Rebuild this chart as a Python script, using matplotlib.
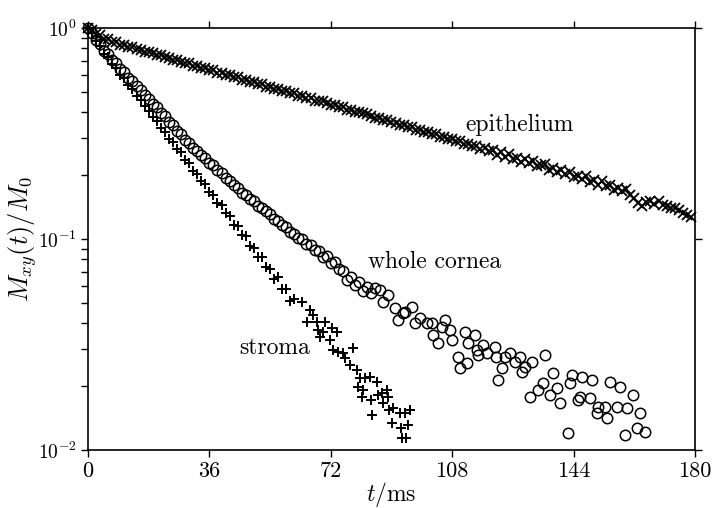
import numpy as np
import matplotlib
matplotlib.use("Agg")
import matplotlib.pyplot as plt

plt.rcParams['font.family'] = 'serif'
plt.rcParams['font.serif'] = ['cmr10', 'DejaVu Serif']
plt.rcParams['mathtext.fontset'] = 'cm'
plt.rcParams['axes.formatter.use_mathtext'] = True

# echo spacing of the regular sampling grid (ms)
echo_step = 1.2

# epithelium, every echo from t = 0
epithelium = [
    1.000, 0.979, 0.938, 0.925, 0.891, 0.887, 0.861, 0.859, 0.832, 0.833,
    0.813, 0.814, 0.791, 0.790, 0.769, 0.772, 0.759, 0.742, 0.745, 0.725,
    0.723, 0.704, 0.706, 0.693, 0.679, 0.682, 0.664, 0.663, 0.646, 0.645,
    0.631, 0.632, 0.614, 0.613, 0.600, 0.599, 0.583, 0.583, 0.570, 0.569,
    0.555, 0.554, 0.543, 0.541, 0.526, 0.527, 0.515, 0.515, 0.501, 0.501,
    0.490, 0.490, 0.476, 0.475, 0.466, 0.465, 0.453, 0.452, 0.453, 0.441,
    0.431, 0.430, 0.421, 0.420, 0.409, 0.409, 0.400, 0.400, 0.397, 0.390,
    0.384, 0.375, 0.374, 0.365, 0.365, 0.357, 0.356, 0.347, 0.346, 0.339,
    0.339, 0.330, 0.329, 0.322, 0.322, 0.313, 0.313, 0.306, 0.305, 0.297,
    0.299, 0.290, 0.290, 0.282, 0.283, 0.276, 0.277, 0.268, 0.269, 0.262,
    0.265, 0.251, 0.257, 0.246, 0.254, 0.240, 0.243, 0.232, 0.239, 0.229,
    0.234, 0.221, 0.223, 0.226, 0.212, 0.217, 0.208, 0.213, 0.204, 0.207,
    0.196, 0.199, 0.192, 0.198, 0.186, 0.190, 0.181, 0.189, 0.179, 0.181,
    0.171, 0.175, 0.169, 0.173, 0.162, 0.156, 0.148, 0.144, 0.150, 0.151,
    0.146, 0.151, 0.145, 0.143, 0.140, 0.141, 0.137, 0.133, 0.130, 0.127,
]

# whole cornea: regular echoes up to ~85 ms, then the scattered tail
cornea_head = [
    1.000, 0.948, 0.880, 0.837, 0.780, 0.751, 0.706, 0.680, 0.642, 0.620,
    0.582, 0.560, 0.529, 0.510, 0.479, 0.462, 0.436, 0.420, 0.395, 0.381,
    0.359, 0.347, 0.325, 0.314, 0.296, 0.285, 0.270, 0.262, 0.250, 0.242,
    0.229, 0.223, 0.212, 0.206, 0.195, 0.189, 0.180, 0.175, 0.166, 0.162,
    0.155, 0.152, 0.144, 0.141, 0.135, 0.131, 0.125, 0.122, 0.117, 0.114,
    0.108, 0.106, 0.101, 0.0998, 0.0943, 0.0941, 0.0882, 0.0875, 0.0824, 0.0832,
    0.0766, 0.0777, 0.0723, 0.0703, 0.0642, 0.0657, 0.0605, 0.0624, 0.0569, 0.0591,
    0.0552, 0.0586,
]
cornea_tail_t = [
    86.6, 87.5, 89.0, 91.0, 91.9, 93.4, 94.0, 96.1, 97.0, 98.5,
    100.5, 102.0, 102.3, 103.8, 105.0, 105.9, 107.4, 107.9, 109.7, 110.3,
    111.8, 112.4, 112.7, 114.8, 115.4, 115.7, 117.1, 118.3, 120.7, 121.0,
    121.6, 122.8, 123.7, 125.1, 126.6, 128.1, 128.7, 129.6, 131.1, 131.7,
    133.5, 134.9, 135.5, 137.0, 137.9, 139.1, 140.0, 142.3, 143.0, 143.5,
    145.3, 145.9, 146.5, 148.9, 149.5, 150.9, 151.2, 153.3, 153.9, 154.8,
    156.9, 157.8, 159.3, 159.8, 161.6, 162.8, 163.7, 165.2,
]
cornea_tail = [
    0.0573, 0.0503, 0.0543, 0.0471, 0.0413, 0.0446, 0.0451, 0.0476, 0.0400, 0.0422,
    0.0400, 0.0400, 0.0351, 0.0321, 0.0383, 0.0413, 0.0371, 0.0332, 0.0276, 0.0245,
    0.0362, 0.0258, 0.0321, 0.0351, 0.0298, 0.0282, 0.0314, 0.0288, 0.0308, 0.0276,
    0.0215, 0.0245, 0.0276, 0.0288, 0.0261, 0.0276, 0.0234, 0.0247, 0.0178, 0.0261,
    0.0193, 0.0208, 0.0282, 0.0182, 0.0232, 0.0197, 0.0167, 0.0120, 0.0208, 0.0227,
    0.0173, 0.0178, 0.0222, 0.0176, 0.0215, 0.0150, 0.0160, 0.0160, 0.0142, 0.0210,
    0.0160, 0.0199, 0.0118, 0.0158, 0.0182, 0.0127, 0.0150, 0.0122,
]

# stroma: regular echoes up to ~61 ms, then the scattered tail
stroma_head = [
    1.000, 0.942, 0.865, 0.818, 0.757, 0.728, 0.676, 0.647, 0.600, 0.577,
    0.536, 0.513, 0.476, 0.458, 0.425, 0.406, 0.377, 0.363, 0.337, 0.323,
    0.299, 0.287, 0.267, 0.257, 0.238, 0.228, 0.210, 0.203, 0.188, 0.182,
    0.167, 0.161, 0.148, 0.145, 0.133, 0.128, 0.117, 0.115, 0.105, 0.103,
    0.0925, 0.0910, 0.0820, 0.0821, 0.0736, 0.0724, 0.0644, 0.0660, 0.0581, 0.0580,
    0.0508, 0.0519,
]
stroma_tail_t = [
    63.5, 65.0, 65.8, 66.7, 67.9, 68.2, 68.8, 69.7, 70.3, 71.8,
    72.4, 72.7, 73.8, 74.1, 75.6, 76.2, 77.7, 78.6, 79.8, 80.1,
    80.7, 81.3, 81.6, 82.1, 83.6, 83.9, 84.2, 85.7, 86.0, 87.2,
    87.5, 88.7, 89.0, 89.3, 90.2, 90.5, 92.5, 92.8, 93.1, 94.0,
    94.3, 94.9, 95.5,
]
stroma_tail = [
    0.0503, 0.0404, 0.0461, 0.0436, 0.0404, 0.0371, 0.0343, 0.0362, 0.0404, 0.0332,
    0.0379, 0.0298, 0.0362, 0.0291, 0.0288, 0.0273, 0.0253, 0.0304, 0.0239, 0.0199,
    0.0219, 0.0178, 0.0193, 0.0219, 0.0222, 0.0173, 0.0147, 0.0210, 0.0182, 0.0186,
    0.0167, 0.0193, 0.0178, 0.0155, 0.0134, 0.0158, 0.0150, 0.0127, 0.0114, 0.0150,
    0.0114, 0.0131, 0.0155,
]

labels = ["epithelium", "whole cornea", "stroma"]
xticks = [0, 36, 72, 108, 144, 180]

t_epi = echo_step * np.arange(len(epithelium))
t_cor = np.concatenate([echo_step * np.arange(len(cornea_head)), cornea_tail_t])
v_cor = np.concatenate([cornea_head, cornea_tail])
t_str = np.concatenate([echo_step * np.arange(len(stroma_head)), stroma_tail_t])
v_str = np.concatenate([stroma_head, stroma_tail])

fig = plt.figure(figsize=(7.13, 5.08), dpi=100)
ax = fig.add_axes([0.1234, 0.1142, 0.8513, 0.8307])

ax.plot(t_epi, epithelium, 'x', color='black', ms=7.5, mew=1.3, clip_on=False)
ax.plot(t_cor, v_cor, 'o', mfc='none', mec='black', ms=7.5, mew=1.1, clip_on=False)
ax.plot(t_str, v_str, '+', color='black', ms=7, mew=1.4, clip_on=False)

ax.set_yscale('log')
ax.set_xlim(0, 180)
ax.set_ylim(0.01, 1)
ax.set_xticks(xticks)
ax.set_xticklabels([str(v) for v in xticks])

ax.tick_params(which='both', direction='out', top=True, right=True, width=1)
ax.tick_params(axis='x', labelsize=16)
ax.tick_params(axis='y', labelsize=14)
ax.tick_params(which='major', length=5, pad=3)
ax.tick_params(which='minor', length=5)
ax.tick_params(axis='y', which='minor', right=False)
for s in ax.spines.values():
    s.set_linewidth(1.2)

ax.set_xlabel(r'$t$/ms', fontsize=17)
ax.xaxis.set_label_coords(0.5, -0.105)
ax.xaxis.label.set_va('center')
ax.set_ylabel(r'$M_{xy}(t)/M_0$', fontsize=19)
ax.yaxis.set_label_coords(-0.108, 0.5)
ax.yaxis.label.set_va('center')

ax.text(128.1, 0.347, labels[0], fontsize=17, ha='center', va='center')
ax.text(102.9, 0.0778, labels[1], fontsize=17, ha='center', va='center')
ax.text(55.5, 0.0304, labels[2], fontsize=17, ha='center', va='center')

fig.savefig('out.png', dpi=100)
